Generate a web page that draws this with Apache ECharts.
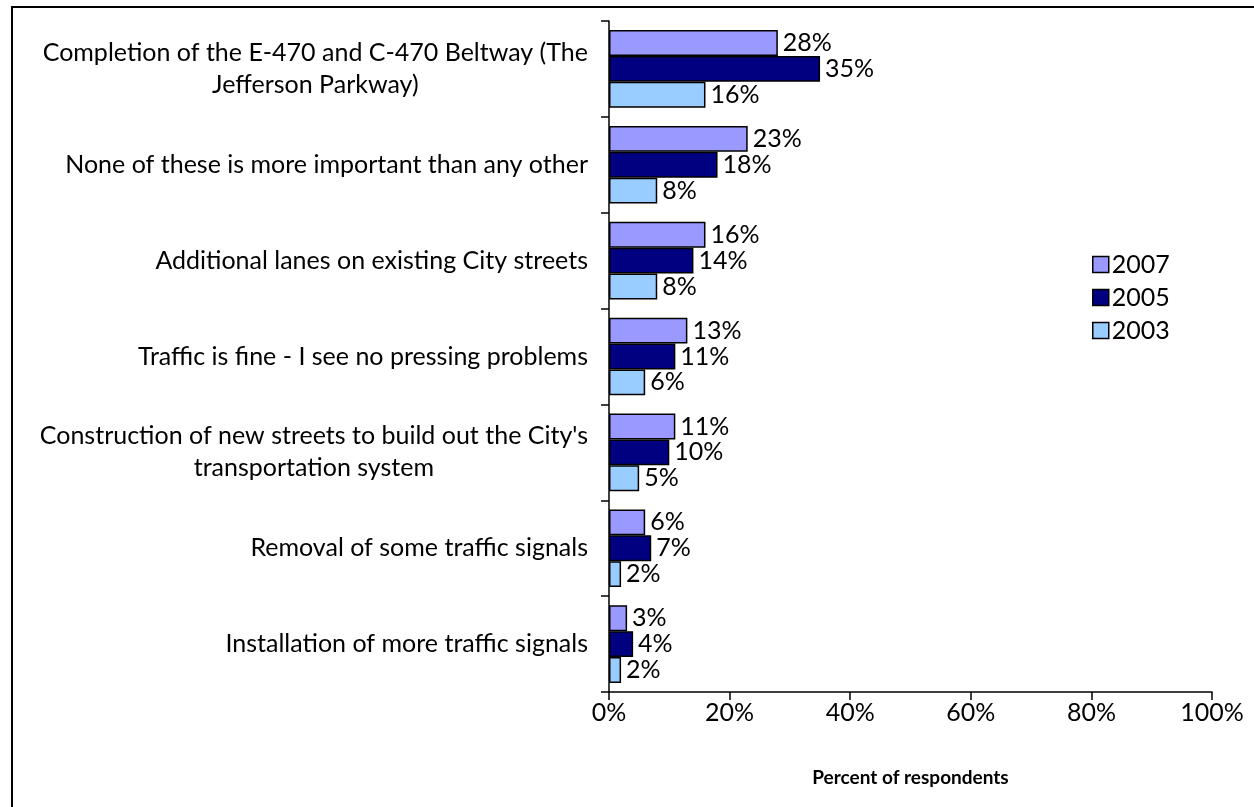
<!DOCTYPE html>
<html>
<head>
<meta charset="utf-8">
<script src="https://cdn.jsdelivr.net/npm/echarts@6/dist/echarts.min.js"></script>
<style>
html,body{margin:0;padding:0;background:#fff;}
#chart{width:1254px;height:807px;}
</style>
</head>
<body>
<div id="chart"></div>
<script>
const categories = [
  "Completion of the E-470 and C-470 Beltway (The\nJefferson Parkway)",
  "None of these is more important than any other",
  "Additional lanes on existing City streets",
  "Traffic is fine - I see no pressing problems",
  "Construction of new streets to build out the City's\ntransportation system",
  "Removal of some traffic signals",
  "Installation of more traffic signals"
];
const seriesNames = ["2007", "2005", "2003"];
const values2007 = [28, 23, 16, 13, 11, 6, 3];
const values2005 = [35, 18, 14, 11, 10, 7, 4];
const values2003 = [16, 8, 8, 6, 5, 2, 2];
const xTicks = [0, 20, 40, 60, 80, 100];
const colors = ["#9999FF", "#000080", "#99CCFF"];

const FONT = "Lato";
const FS = 25;
const chart = echarts.init(document.getElementById('chart'));
const allValues = [values2007, values2005, values2003];

chart.setOption({
  animation: false,
  textStyle: { fontFamily: FONT },
  graphic: [{
    type: 'rect',
    shape: { x: 12, y: 7, width: 1400, height: 1000 },
    style: { fill: 'none', stroke: '#000', lineWidth: 2 },
    silent: true,
    z: -10
  }],
  grid: { left: 609, right: 42, top: 21, bottom: 115, containLabel: false },
  legend: {
    orient: 'vertical',
    left: 1092,
    top: 252,
    padding: 0,
    itemWidth: 16,
    itemHeight: 16,
    itemGap: 8,
    icon: 'rect',
    textStyle: { fontFamily: FONT, fontSize: FS, color: '#000', padding: [0, 0, 0, -2] },
    data: seriesNames.map((n, i) => ({ name: n, itemStyle: { color: colors[i], borderColor: '#000', borderWidth: 1.5 } }))
  },
  xAxis: {
    type: 'value',
    min: xTicks[0], max: xTicks[xTicks.length - 1], interval: xTicks[1] - xTicks[0],
    name: 'Percent of respondents',
    nameLocation: 'middle',
    nameGap: 76,
    nameTextStyle: { fontFamily: FONT, fontSize: 19, fontWeight: 'bold', color: '#000' },
    axisLine: { show: true, lineStyle: { color: '#000', width: 1.5 } },
    axisTick: { show: true, length: 8, lineStyle: { color: '#000', width: 1.5 } },
    axisLabel: { fontFamily: FONT, fontSize: FS, color: '#000', margin: 8, formatter: v => v + '%' },
    splitLine: { show: false }
  },
  yAxis: {
    type: 'category',
    inverse: true,
    data: categories,
    axisLine: { show: true, lineStyle: { color: '#000', width: 1.5 } },
    axisTick: { show: true, length: 8, lineStyle: { color: '#000', width: 1.5 } },
    axisLabel: {
      margin: 21,
      fontFamily: FONT, fontSize: FS, color: '#000', lineHeight: 32,
      formatter: v => v.split('\n').map(l => '{c|' + l + '}').join('\n'),
      rich: { c: { align: 'center', fontFamily: FONT, fontSize: FS, color: '#000', lineHeight: 32 } }
    }
  },
  series: seriesNames.map((n, i) => ({
    name: n,
    type: 'bar',
    data: allValues[i],
    barGap: '0%',
    barCategoryGap: '19%',
    itemStyle: { color: colors[i], borderColor: '#000', borderWidth: 1.5 },
    label: {
      show: true, position: 'right', distance: 5,
      fontFamily: FONT, fontSize: FS, color: '#000',
      formatter: p => p.value + '%'
    }
  }))
});
</script>
</body>
</html>
